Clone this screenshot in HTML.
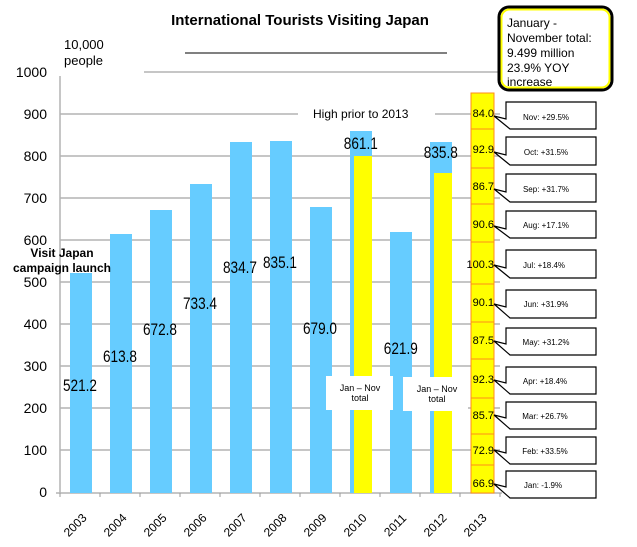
<!DOCTYPE html><html><head><style>body{margin:0;background:#fff}svg{display:block;font-family:"Liberation Sans",Arial,sans-serif}</style></head><body>
<svg width="637" height="547" viewBox="0 0 637 547">
<text x="300" y="25" font-size="15" font-weight="bold" text-anchor="middle">International Tourists Visiting Japan</text>
<line x1="185" y1="53" x2="447" y2="53" stroke="#000" stroke-width="1"/>
<g stroke="#b4b4b4" stroke-width="1.5">
<line x1="144" y1="72" x2="500" y2="72"/>
<line x1="60" y1="114" x2="298" y2="114"/><line x1="435" y1="114" x2="500" y2="114"/>
<line x1="60" y1="156" x2="500" y2="156"/><line x1="60" y1="198" x2="500" y2="198"/>
<line x1="60" y1="240" x2="500" y2="240"/><line x1="60" y1="282" x2="500" y2="282"/>
<line x1="60" y1="324" x2="500" y2="324"/><line x1="60" y1="366" x2="500" y2="366"/>
<line x1="60" y1="408" x2="500" y2="408"/><line x1="60" y1="450" x2="500" y2="450"/>
<line x1="60" y1="76" x2="60" y2="493"/><line x1="56" y1="493" x2="502" y2="493"/>
</g>
<g stroke="#999" stroke-width="1">
<line x1="60" y1="493" x2="60" y2="497"/><line x1="100" y1="493" x2="100" y2="497"/><line x1="140" y1="493" x2="140" y2="497"/><line x1="180" y1="493" x2="180" y2="497"/><line x1="220" y1="493" x2="220" y2="497"/><line x1="260" y1="493" x2="260" y2="497"/><line x1="300" y1="493" x2="300" y2="497"/><line x1="340" y1="493" x2="340" y2="497"/><line x1="380" y1="493" x2="380" y2="497"/><line x1="420" y1="493" x2="420" y2="497"/><line x1="460" y1="493" x2="460" y2="497"/><line x1="500" y1="493" x2="500" y2="497"/>
</g>
<g font-size="14" text-anchor="end" fill="#000">
<text x="47" y="77">1000</text><text x="47" y="119">900</text><text x="47" y="161">800</text><text x="47" y="203">700</text><text x="47" y="245">600</text><text x="47" y="287">500</text><text x="47" y="329">400</text><text x="47" y="371">300</text><text x="47" y="413">200</text><text x="47" y="455">100</text><text x="47" y="497">0</text>
</g>
<text x="64" y="49" font-size="13">10,000</text><text x="64" y="65" font-size="13">people</text>
<g fill="#66ccff">
<rect x="70" y="273" width="22" height="220"/><rect x="110" y="234" width="22" height="259"/>
<rect x="150" y="210" width="22" height="283"/><rect x="190" y="184" width="22" height="309"/>
<rect x="230" y="142" width="22" height="351"/><rect x="270" y="141" width="22" height="352"/>
<rect x="310" y="207" width="22" height="286"/><rect x="350" y="131" width="22" height="362"/>
<rect x="390" y="232" width="22" height="261"/><rect x="430" y="142" width="22" height="351"/>
</g>
<rect x="354" y="156" width="18" height="337" fill="#ffff00"/>
<rect x="434" y="173" width="18" height="320" fill="#ffff00"/>
<g fill="#ffff00" stroke="#ff8c1a" stroke-width="1">
<rect x="471" y="465" width="23" height="28"/><rect x="471" y="434" width="23" height="31"/>
<rect x="471" y="398" width="23" height="36"/><rect x="471" y="359" width="23" height="39"/>
<rect x="471" y="322" width="23" height="37"/><rect x="471" y="284" width="23" height="38"/>
<rect x="471" y="242" width="23" height="42"/><rect x="471" y="204" width="23" height="38"/>
<rect x="471" y="168" width="23" height="36"/><rect x="471" y="129" width="23" height="39"/>
<rect x="471" y="93" width="23" height="36"/>
</g>
<g font-size="11" text-anchor="end">
<text x="494" y="117">84.0</text><text x="494" y="153">92.9</text><text x="494" y="190">86.7</text><text x="494" y="228">90.6</text><text x="494" y="268">100.3</text><text x="494" y="306">90.1</text><text x="494" y="344">87.5</text><text x="494" y="383">92.3</text><text x="494" y="419">85.7</text><text x="494" y="454">72.9</text><text x="494" y="487">66.9</text>
</g>
<g font-size="17" text-anchor="middle" transform="scale(0.8,1)">
<text x="100" y="391">521.2</text><text x="150" y="362">613.8</text><text x="200" y="335">672.8</text><text x="250" y="309">733.4</text><text x="300" y="273">834.7</text><text x="350" y="268">835.1</text><text x="400" y="334">679.0</text><text x="451" y="149">861.1</text><text x="501" y="354">621.9</text><text x="551" y="158">835.8</text>
</g>
<text x="313" y="118" font-size="12">High prior to 2013</text>
<text x="62" y="257" font-size="12" font-weight="bold" text-anchor="middle">Visit Japan</text>
<text x="62" y="272" font-size="12" font-weight="bold" text-anchor="middle">campaign launch</text>
<rect x="326" y="376" width="67" height="34" fill="#fff"/><rect x="403" y="377" width="65" height="34" fill="#fff"/>
<g font-size="9" text-anchor="middle"><text x="360" y="391">Jan – Nov</text><text x="360" y="401">total</text><text x="437" y="392">Jan – Nov</text><text x="437" y="402">total</text></g>
<g fill="#fff" stroke="#000" stroke-width="1.2">
<path d="M506,102 H596 V129 H510 L494,116 L506,119 Z"/>
<path d="M506,137 H596 V165 H510 L494,152 L506,155 Z"/>
<path d="M506,174 H596 V202 H510 L494,189 L506,192 Z"/>
<path d="M506,211 H596 V238 H510 L494,226 L506,229 Z"/>
<path d="M506,250 H596 V278 H510 L494,265 L506,268 Z"/>
<path d="M506,290 H596 V318 H510 L494,304 L506,307 Z"/>
<path d="M506,328 H596 V355 H510 L494,341 L506,344 Z"/>
<path d="M506,367 H596 V394 H510 L494,380 L506,383 Z"/>
<path d="M506,402 H596 V429 H510 L494,415 L506,418 Z"/>
<path d="M506,437 H596 V464 H510 L494,450 L506,453 Z"/>
<path d="M506,471 H596 V498 H510 L494,484 L506,487 Z"/>
</g>
<g font-size="8" text-anchor="middle">
<text x="546" y="120">Nov: +29.5%</text><text x="546" y="155">Oct: +31.5%</text><text x="546" y="192">Sep: +31.7%</text><text x="546" y="228">Aug: +17.1%</text><text x="544" y="268">Jul: +18.4%</text><text x="546" y="307">Jun: +31.9%</text><text x="546" y="345">May: +31.2%</text><text x="545" y="384">Apr: +18.4%</text><text x="545" y="419">Mar: +26.7%</text><text x="545" y="454">Feb: +33.5%</text><text x="543" y="488">Jan: -1.9%</text>
</g>
<rect x="499" y="7" width="113" height="83" rx="10" fill="#fff" stroke="#000" stroke-width="3"/>
<rect x="501.5" y="9.5" width="108" height="78" rx="8" fill="none" stroke="#ffff00" stroke-width="2"/>
<g font-size="12"><text x="507" y="27">January -</text><text x="507" y="42">November total:</text><text x="507" y="57">9.499 million</text><text x="507" y="72">23.9% YOY</text><text x="507" y="86">increase</text></g>
<g font-size="12">
<text transform="translate(78,528) rotate(-45)" text-anchor="middle">2003</text>
<text transform="translate(118,528) rotate(-45)" text-anchor="middle">2004</text>
<text transform="translate(158,528) rotate(-45)" text-anchor="middle">2005</text>
<text transform="translate(198,528) rotate(-45)" text-anchor="middle">2006</text>
<text transform="translate(238,528) rotate(-45)" text-anchor="middle">2007</text>
<text transform="translate(278,528) rotate(-45)" text-anchor="middle">2008</text>
<text transform="translate(318,528) rotate(-45)" text-anchor="middle">2009</text>
<text transform="translate(358,528) rotate(-45)" text-anchor="middle">2010</text>
<text transform="translate(398,528) rotate(-45)" text-anchor="middle">2011</text>
<text transform="translate(438,528) rotate(-45)" text-anchor="middle">2012</text>
<text transform="translate(478,528) rotate(-45)" text-anchor="middle">2013</text>
</g>
</svg></body></html>
